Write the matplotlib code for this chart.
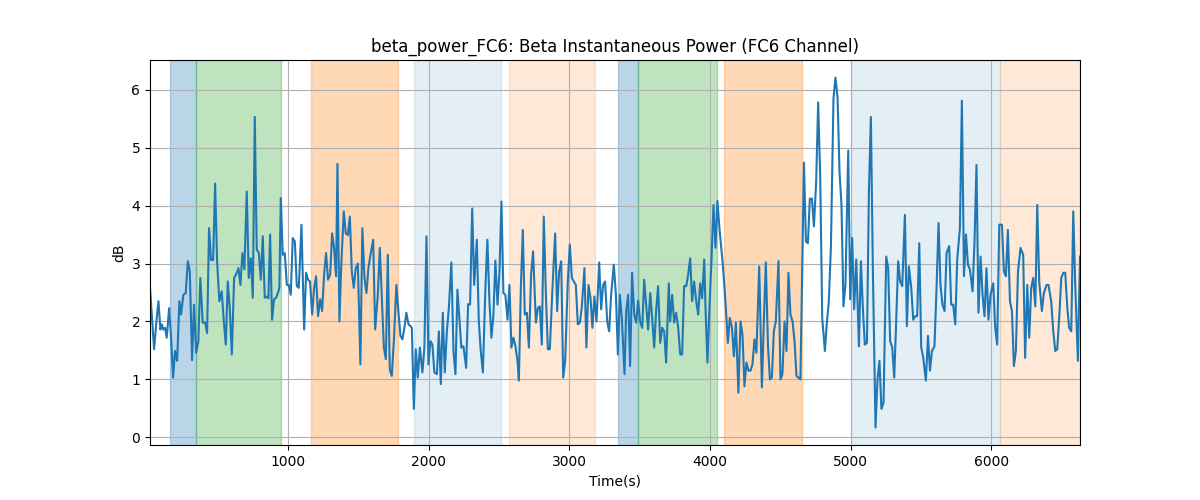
import matplotlib
matplotlib.use("Agg")
import matplotlib.pyplot as plt
import numpy as np

time_s = [
    18, 47, 66, 78, 92, 102, 113, 125, 137, 154, 168, 182, 196, 211, 227, 239, 255, 272, 287, 301,
    317, 331, 346, 362, 376, 393, 410, 424, 438, 452, 467, 481, 495, 511, 528, 543, 557, 571, 585, 600,
    616, 630, 647, 661, 675, 689,
    706, 720, 735, 749, 763, 777, 792, 806, 820, 834, 848, 860, 872, 886, 900, 915, 929, 938, 948, 962,
    976, 991, 1005, 1019, 1033, 1048, 1062, 1076, 1095, 1114, 1128, 1142, 1156, 1171, 1185, 1199, 1213,
    1228, 1242, 1256, 1270, 1284, 1299, 1313, 1327, 1341, 1351, 1365,
    1377, 1396, 1410, 1425, 1439, 1453, 1467, 1481, 1496, 1514, 1528, 1543, 1557, 1571, 1590, 1605, 1619,
    1638, 1652, 1666, 1681, 1695, 1709, 1723, 1737, 1752, 1770, 1784, 1799, 1813, 1827, 1841, 1856, 1870,
    1880, 1894, 1908, 1922, 1937, 1955, 1969, 1984, 1998, 2012, 2026, 2040,
    2058, 2072, 2086, 2100, 2114, 2129, 2143, 2161, 2176, 2190, 2204, 2218, 2232, 2247, 2266, 2280, 2294,
    2309, 2323, 2342, 2356, 2370, 2385, 2403, 2417, 2432, 2446, 2460, 2474, 2489, 2503, 2517, 2531, 2545,
    2560, 2574, 2588, 2602, 2617, 2631, 2641, 2655, 2669, 2683, 2698, 2712,
    2728, 2742, 2762, 2776, 2790, 2804, 2818, 2833, 2847, 2861, 2880, 2899, 2913, 2927, 2942, 2956, 2970,
    2989, 3003, 3018, 3032, 3046, 3060, 3075, 3089, 3107, 3121, 3136, 3150, 3164, 3178, 3193, 3212, 3226,
    3240, 3254, 3269, 3283, 3297, 3316, 3331, 3345, 3359, 3373, 3392,
    3404, 3418, 3432, 3446, 3461, 3475, 3489, 3503, 3518, 3532, 3546, 3560, 3575, 3589, 3603, 3617, 3631,
    3646, 3660, 3674, 3688, 3707, 3717, 3731, 3745, 3759, 3774, 3788, 3802, 3816, 3831, 3845, 3859, 3873,
    3887, 3902, 3916, 3930, 3944, 3959, 3968, 3982, 3996, 4010, 4025, 4039, 4053, 4067,
    4089, 4103, 4117, 4127, 4141, 4156, 4170, 4184, 4202, 4217, 4231, 4245, 4259, 4274, 4288, 4302, 4316,
    4330, 4350, 4369, 4383, 4397, 4412, 4426, 4440, 4454, 4468, 4487, 4501, 4515, 4530, 4544, 4558, 4572,
    4587, 4601, 4615, 4629, 4643, 4668, 4682, 4696, 4710, 4725, 4739,
    4755, 4769, 4784, 4798, 4817, 4831, 4845, 4860, 4878, 4892, 4907, 4921, 4935, 4949, 4963, 4983, 4997,
    5011, 5025, 5040, 5059, 5073, 5087, 5101, 5116, 5130, 5144, 5158, 5177, 5191, 5205, 5219, 5234, 5253,
    5267, 5281, 5296, 5310, 5324, 5338, 5352, 5367, 5386, 5400, 5414,
    5431, 5445, 5459, 5473, 5488, 5502, 5516, 5535, 5550, 5564, 5578, 5596, 5611, 5625, 5639, 5653, 5668,
    5682, 5701, 5715, 5729, 5744, 5758, 5777, 5791, 5806, 5820, 5834, 5848, 5867, 5881, 5895, 5909, 5924,
    5938, 5952, 5966, 5980, 5995, 6014, 6028, 6042, 6057,
    6076, 6090, 6104, 6118, 6133, 6147, 6161, 6175, 6190, 6208, 6227, 6241, 6256, 6270, 6284, 6298, 6313,
    6327, 6341, 6360, 6374, 6393, 6407, 6426, 6441, 6455, 6469, 6483, 6498, 6512, 6526, 6541, 6554, 6569,
    6583, 6597, 6616, 6631,
]

power_db = [
    2.58, 1.52, 2.06, 2.35, 1.86, 1.95, 1.86, 1.89, 1.72, 2.23, 1.72, 1.03, 1.49, 1.32, 2.35, 2.12, 2.46, 2.49, 3.04, 2.86,
    1.33, 2.29, 1.46, 1.66, 2.75, 1.98, 1.98, 1.80, 3.61, 3.06, 3.06, 4.38, 3.04, 2.35, 2.52, 2.00, 1.60, 2.69, 2.23, 1.43,
    2.75, 2.81, 2.92, 2.63, 3.18, 2.90,
    4.24, 2.75, 3.09, 2.41, 5.53, 3.24, 3.18, 2.72, 3.47, 2.41, 2.43, 2.40, 3.50, 2.03, 2.38, 2.41, 2.50, 2.58, 4.13, 3.15,
    3.18, 2.63, 2.63, 2.46, 3.44, 3.38, 2.61, 2.58, 3.67, 1.86, 2.84, 2.72, 2.69, 2.12, 2.58, 2.78, 2.09,
    2.38, 2.18, 2.81, 3.18, 2.72, 2.81, 3.52, 3.26, 2.78, 4.72, 2.00,
    2.92, 3.90, 3.52, 3.49, 3.81, 2.86, 2.58, 2.92, 3.00, 1.26, 3.61, 2.75, 2.49, 2.92, 3.21, 3.41, 1.86,
    2.46, 3.27, 2.46, 1.55, 1.35, 3.15, 1.17, 1.06, 1.66, 2.63, 2.18, 1.75, 1.69, 1.89, 2.15, 1.95, 1.92,
    1.89, 0.49, 1.52, 1.03, 1.55, 1.12, 1.55, 3.47, 1.26, 1.66, 1.60, 1.12,
    1.09, 1.83, 0.92, 2.15, 1.12, 1.83, 2.23, 3.02, 1.49, 1.09, 2.55, 2.06, 1.55, 1.57, 1.20, 2.30, 2.29,
    3.95, 2.63, 3.41, 2.00, 1.49, 1.12, 2.58, 3.41, 2.32, 1.72, 2.12, 3.05, 2.29, 2.86, 4.07, 2.49, 2.46,
    2.03, 2.63, 1.55, 1.72, 1.57, 1.32, 0.98, 2.58, 3.58, 2.12, 2.15, 1.55,
    2.81, 3.21, 1.98, 2.23, 2.26, 1.60, 3.81, 2.46, 1.52, 1.52, 2.58, 3.52, 2.18, 2.86, 3.04, 1.03, 1.32,
    2.69, 3.33, 2.75, 2.69, 2.63, 1.95, 1.98, 2.26, 2.92, 1.55, 2.63, 2.41, 1.89, 2.43, 2.00, 3.02, 2.21,
    2.63, 2.69, 2.00, 1.83, 2.46, 2.98, 2.46, 1.43, 2.46, 2.06, 1.09,
    2.18, 2.46, 1.23, 2.84, 2.12, 1.98, 2.36, 2.00, 1.89, 2.72, 2.29, 1.86, 2.49, 2.06, 1.55, 2.18, 2.61,
    1.63, 1.89, 1.83, 1.29, 2.66, 2.00, 2.46, 1.98, 2.15, 1.89, 1.43, 1.43, 2.61, 2.61, 2.81, 3.09, 2.35,
    2.69, 2.35, 2.12, 2.66, 2.40, 3.07, 2.23, 1.29, 2.23, 3.04, 4.01, 3.27, 4.08, 3.61,
    3.04, 2.58, 2.06, 1.63, 2.06, 1.89, 1.40, 1.98, 0.77, 2.00, 1.77, 0.88, 1.29, 1.15, 1.15, 1.26, 1.69,
    1.46, 2.95, 0.86, 2.00, 3.02, 1.60, 1.00, 1.03, 1.83, 2.00, 3.04, 1.00, 1.09, 2.00, 1.49, 2.84, 2.12,
    2.00, 1.66, 1.06, 1.03, 1.00, 4.74, 3.38, 3.35, 4.12, 4.12, 3.64,
    4.41, 5.78, 4.47, 2.06, 1.49, 1.98, 2.35, 3.30, 5.84, 6.21, 5.87, 4.58, 4.01, 2.26, 2.63, 4.95, 2.38,
    3.44, 2.21, 3.07, 1.57, 3.04, 2.23, 1.60, 1.63, 4.24, 5.53, 2.92, 0.17, 1.00, 1.32, 0.49, 0.60, 3.12,
    2.92, 1.66, 1.55, 1.03, 2.00, 3.04, 2.69, 2.61, 3.84, 1.92, 2.95,
    2.58, 2.03, 2.09, 2.09, 3.35, 1.55, 1.38, 0.98, 1.75, 1.15, 1.49, 1.57, 2.58, 3.70, 2.63, 2.29, 2.18,
    3.18, 3.30, 2.29, 2.29, 1.95, 3.07, 3.61, 5.81, 2.78, 3.50, 2.98, 2.90, 2.52, 3.38, 4.70, 2.15, 3.12,
    2.46, 2.09, 2.92, 2.03, 2.46, 2.66, 1.89, 1.60, 3.67,
    3.67, 2.86, 2.78, 3.58, 2.35, 2.18, 1.23, 1.49, 2.86, 3.27, 3.15, 1.37, 2.63, 1.72, 2.58, 2.75, 2.26,
    4.01, 2.69, 2.18, 2.49, 2.63, 2.63, 2.35, 1.83, 1.49, 1.52, 2.06, 2.75, 2.84, 2.84, 2.23, 1.89, 1.83,
    3.90, 2.63, 1.32, 3.12,
]

span_start = [161, 346, 1161, 1898, 2572, 3347, 3491, 4099, 5006, 6065]
span_end = [346, 948, 1783, 2513, 3179, 3491, 4048, 4651, 6065, 6631]
span_color = ["tab:blue", "tab:green", "tab:orange", "tab:blue", "tab:orange",
              "tab:blue", "tab:green", "tab:orange", "tab:blue", "tab:orange"]
span_alpha = [0.3, 0.3, 0.3, 0.12, 0.17, 0.3, 0.3, 0.3, 0.12, 0.17]

fig, ax = plt.subplots(figsize=(12, 5), dpi=100)
for s, e, c, a in zip(span_start, span_end, span_color, span_alpha):
    ax.axvspan(s, e, color=c, alpha=a)
ax.plot(time_s, power_db, color="tab:blue", linewidth=1.5)
ax.set_xlim(time_s[0], time_s[-1])
ax.grid(True)
ax.set_title("beta_power_FC6: Beta Instantaneous Power (FC6 Channel)")
ax.set_xlabel("Time(s)")
ax.set_ylabel("dB")
fig.savefig("out.png", dpi=100)
